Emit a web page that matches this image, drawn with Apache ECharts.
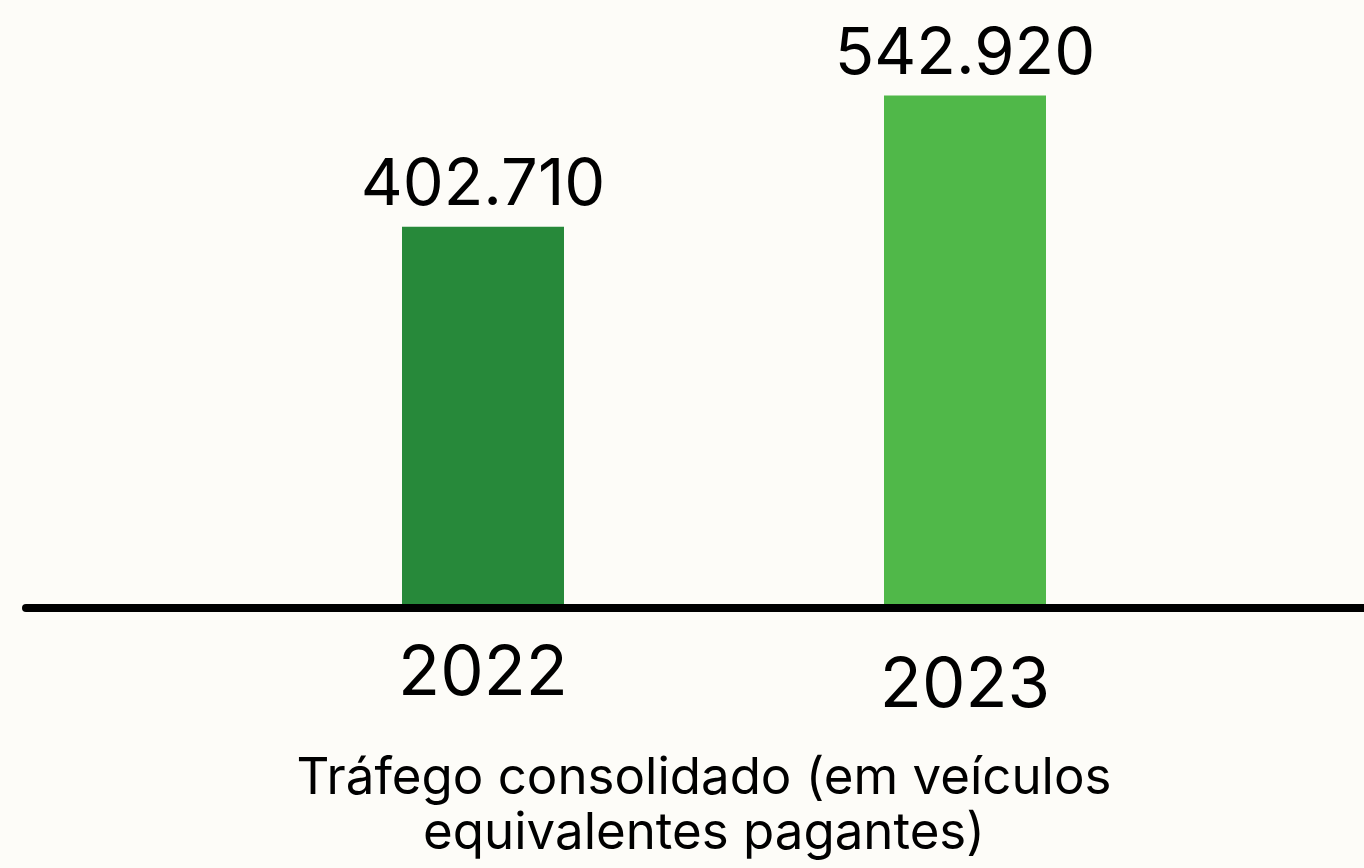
<!DOCTYPE html>
<html>
<head>
<meta charset="utf-8">
<script src="https://cdn.jsdelivr.net/npm/echarts@6/dist/echarts.min.js"></script>
<style>
  html, body { margin: 0; padding: 0; background: #fdfcf8; }
  #chart { width: 1364px; height: 868px; }
</style>
</head>
<body>
<div id="chart"></div>
<script>
var years = ['2022', '2023']
var trafego = [402710, 542920]
var barColors = ['#27893a', '#50b849']
var tituloTexto = 'Tráfego consolidado (em veículos\nequivalentes pagantes)'

// formata 402710 -> 402.710
function fmt(v) {
  return String(v).replace(/\B(?=(\d{3})+(?!\d))/g, '.')
}

var fonte = 'Inter, "Noto Sans", sans-serif'
var chart = echarts.init(document.getElementById('chart'))

var option = {
  backgroundColor: '#fdfcf8',
  title: {
    text: tituloTexto,
    left: 704,
    top: 751,
    padding: 0,
    textAlign: 'center',
    textStyle: {
      color: '#000',
      fontFamily: fonte,
      fontWeight: 'normal',
      fontSize: 51,
      lineHeight: 55
    }
  },
  grid: [
    { left: 242, width: 964, top: 42, bottom: 264 },
    { left: 26, right: 0, top: 42, bottom: 260 }
  ],
  xAxis: [
    {
      type: 'category',
      gridIndex: 0,
      data: years.map(function(y, i) {
        // o rótulo de 2023 fica um pouco mais baixo no original
        return i === 1 ? { value: y, textStyle: { padding: [12, 0, 0, 0] } } : y
      }),
      axisLine: { show: false },
      axisTick: { show: false },
      axisLabel: {
        color: '#000',
        fontFamily: fonte,
        fontSize: 69,
        margin: 36
      }
    },
    {
      // linha do eixo, mais larga que as barras
      type: 'value',
      gridIndex: 1,
      min: 0,
      max: 1,
      axisLine: { show: true, onZero: false, lineStyle: { color: '#000', width: 8 } },
      axisTick: { show: false },
      axisLabel: { show: false },
      splitLine: { show: false }
    }
  ],
  yAxis: [
    { type: 'value', gridIndex: 0, min: 0, max: 600000, show: false },
    { type: 'value', gridIndex: 1, min: 0, max: 1, show: false }
  ],
  series: [
    {
      type: 'bar',
      xAxisIndex: 0,
      yAxisIndex: 0,
      barWidth: 162,
      data: trafego.map(function(v, i) {
        return { value: v, itemStyle: { color: barColors[i] } }
      }),
      label: {
        show: true,
        position: 'top',
        distance: 9,
        color: '#000',
        fontFamily: fonte,
        fontSize: 65,
        formatter: function(p) { return fmt(p.value) }
      }
    }
  ]
}
chart.setOption(option)
window.addEventListener('resize', function() {
  chart.resize()
})
</script>
</body>
</html>
